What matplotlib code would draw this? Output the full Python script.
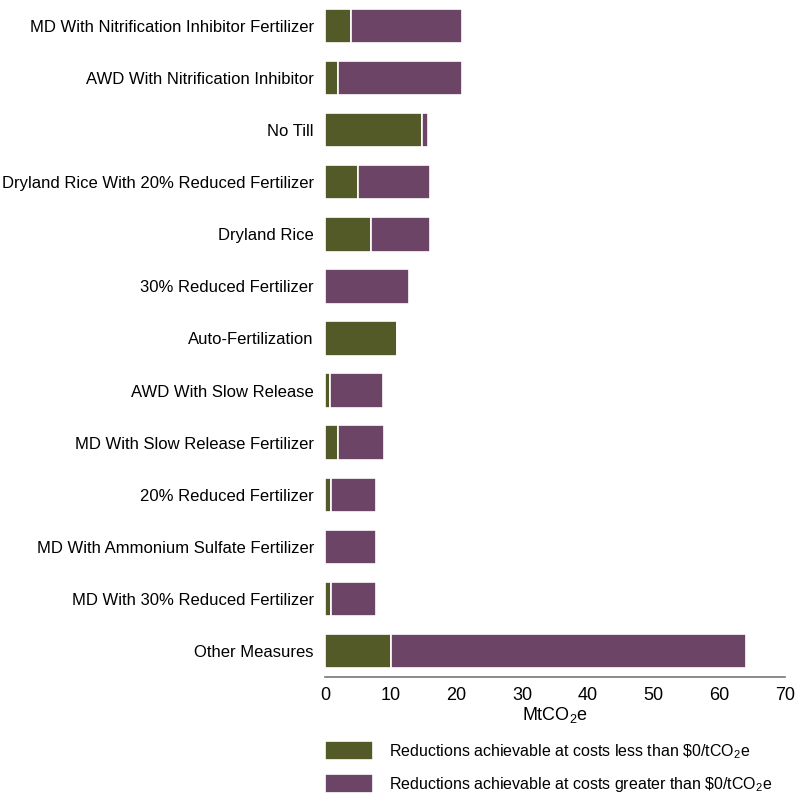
import matplotlib
matplotlib.use("Agg")
import matplotlib.pyplot as plt
import numpy as np

plt.rcParams['font.family'] = ['Liberation Sans', 'DejaVu Sans']
plt.rcParams['mathtext.fontset'] = 'custom'
plt.rcParams['mathtext.rm'] = 'Liberation Sans'
plt.rcParams['mathtext.it'] = 'Liberation Sans'

measures = [
    "MD With Nitrification Inhibitor Fertilizer",
    "AWD With Nitrification Inhibitor",
    "No Till",
    "Dryland Rice With 20% Reduced Fertilizer",
    "Dryland Rice",
    "30% Reduced Fertilizer",
    "Auto-Fertilization",
    "AWD With Slow Release",
    "MD With Slow Release Fertilizer",
    "20% Reduced Fertilizer",
    "MD With Ammonium Sulfate Fertilizer",
    "MD With 30% Reduced Fertilizer",
    "Other Measures",
]
below_zero = [4, 2, 14.8, 5, 7, 0, 11, 0.8, 2, 0.9, 0, 0.9, 10]
above_zero = [16.8, 18.8, 0.9, 11, 9, 12.8, 0, 8, 7, 6.9, 7.8, 6.9, 54]

green = "#535a28"
purple = "#6c4466"
fs = 12

fig = plt.figure(figsize=(8.01, 7.97), dpi=100)
ax = fig.add_axes([325 / 801, 1 - 677 / 797, 460 / 801, 677 / 797])

y = np.arange(len(measures))
ax.barh(y, below_zero, height=0.66, color=green, edgecolor="white", linewidth=1.2,
        label="Reductions achievable at costs less than \\$0/tCO$_2$e")
ax.barh(y, above_zero, left=below_zero, height=0.66, color=purple, edgecolor="white",
        linewidth=1.2, label="Reductions achievable at costs greater than \\$0/tCO$_2$e")

ax.set_ylim(len(measures) - 0.5, -0.5)
ax.set_xlim(0, 70)
ax.set_yticks(y)
ax.set_yticklabels(measures, fontsize=fs)
ax.set_xticks(np.arange(0, 71, 10))
ax.tick_params(axis="x", labelsize=fs + 1, length=0, pad=7)
ax.tick_params(axis="y", length=0, pad=8)
for side in ["top", "right", "left"]:
    ax.spines[side].set_visible(False)
ax.spines["bottom"].set_color("#777777")
ax.spines["bottom"].set_linewidth(1.2)
ax.set_xlabel("MtCO$_2$e", fontsize=fs + 1, labelpad=1)

ax.legend(loc="upper left", bbox_to_anchor=(0, -0.095), frameon=False, fontsize=11.5,
          handlelength=3.0, handleheight=1.45, handletextpad=1.0, labelspacing=0.85,
          borderaxespad=0, borderpad=0)

fig.savefig("out.png", dpi=100)
